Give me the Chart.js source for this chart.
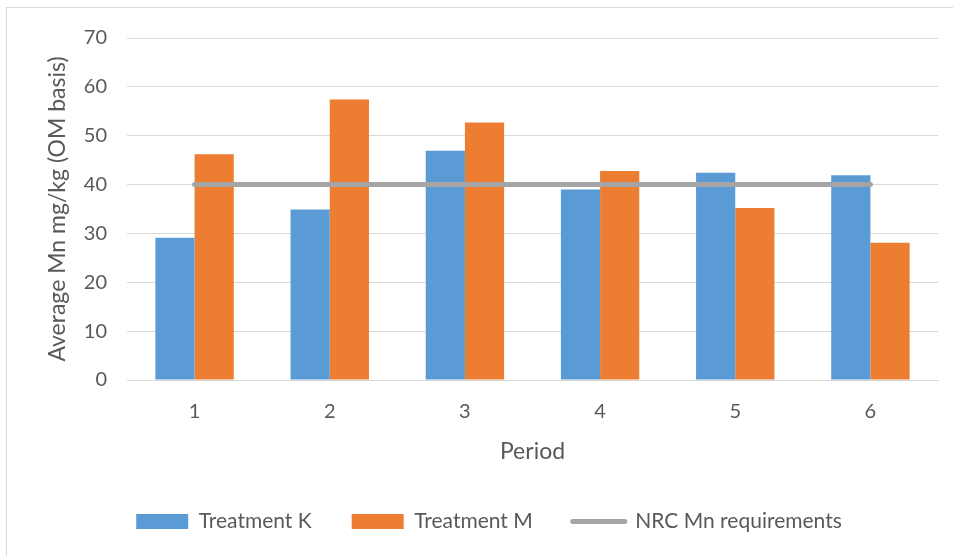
<!DOCTYPE html>
<html>
<head>
    <title>Average Mn</title>
    <script src="https://cdn.jsdelivr.net/npm/chart.js@4.4.1/dist/chart.umd.min.js"></script>
    <style>
        html, body { margin: 0; padding: 0; background: #fff; overflow: hidden; }
        #frame { position: absolute; left: 6px; top: 7px; width: 1000px; height: 600px;
                 border-left: 1px solid #d9d9d9; border-top: 1px solid #d9d9d9; }
        #wrap { position: absolute; left: 0; top: 0; width: 953px; height: 556px; }
    </style>
</head>
<body>
<div id="frame"></div>
<div id="wrap"><canvas id="stage"></canvas></div>
<script>
    // data
    var periods = ['1', '2', '3', '4', '5', '6'];
    var treatmentK = [29.1, 34.9, 46.9, 39.0, 42.4, 41.9];
    var treatmentM = [46.2, 57.4, 52.7, 42.8, 35.2, 28.1];
    var nrcReq = [40, 40, 40, 40, 40, 40];

    var grey = '#595959';
    var font = 'Lato';

    var canvas = document.getElementById('stage');
    var chart = new Chart(canvas, {
        type: 'bar',
        data: {
            labels: periods,
            datasets: [
                {
                    label: 'Treatment K',
                    data: treatmentK,
                    backgroundColor: '#5b9bd5',
                    categoryPercentage: 0.58,
                    barPercentage: 1.0,
                    order: 2
                },
                {
                    label: 'Treatment M',
                    data: treatmentM,
                    backgroundColor: '#ed7d31',
                    categoryPercentage: 0.58,
                    barPercentage: 1.0,
                    order: 2
                },
                {
                    type: 'line',
                    label: 'NRC Mn requirements',
                    data: nrcReq,
                    borderColor: '#a5a5a5',
                    backgroundColor: '#a5a5a5',
                    borderWidth: 5,
                    borderCapStyle: 'round',
                    pointRadius: 0,
                    fill: false,
                    order: 1
                }
            ]
        },
        options: {
            responsive: true,
            maintainAspectRatio: false,
            animation: false,
            layout: { padding: { left: 40, right: 15, top: 38, bottom: 14 } },
            plugins: {
                tooltip: { enabled: false },
                legend: {
                    position: 'bottom',
                    labels: {
                        color: grey,
                        font: { family: font, size: 21 },
                        usePointStyle: true,
                        pointStyleWidth: 52,
                        boxHeight: 15,
                        padding: 40,
                        sort: function (a, b) { return a.datasetIndex - b.datasetIndex; },
                        generateLabels: function (c) {
                            var items = Chart.defaults.plugins.legend.labels.generateLabels(c);
                            items.forEach(function (it) {
                                if (it.datasetIndex == 2) {
                                    it.pointStyle = 'line';
                                    it.lineWidth = 5;
                                    it.strokeStyle = '#a5a5a5';
                                    it.lineCap = 'round';
                                } else {
                                    it.pointStyle = 'rect';
                                    it.lineWidth = 0;
                                }
                            });
                            return items;
                        }
                    }
                }
            },
            scales: {
                x: {
                    grid: { display: false, drawTicks: false },
                    border: { color: '#d9d9d9' },
                    ticks: { color: grey, font: { family: font, size: 20 }, padding: 20 },
                    title: {
                        display: true, text: 'Period', color: grey,
                        font: { family: font, size: 23 }, padding: { top: 4, bottom: 6 }
                    },
                    afterFit: function (s) { s.height = 91; }
                },
                y: {
                    min: 0,
                    max: 70,
                    ticks: { stepSize: 10, color: grey, font: { family: font, size: 20 }, padding: 20 },
                    grid: { color: '#d9d9d9', drawTicks: false },
                    border: { display: false },
                    title: {
                        display: true, text: 'Average Mn mg/kg (OM basis)', color: grey,
                        font: { family: font, size: 23 }, padding: { top: 4, bottom: 4 }
                    },
                    afterFit: function (s) { s.width = 87; }
                }
            }
        }
    });
</script>
</body>
</html>
